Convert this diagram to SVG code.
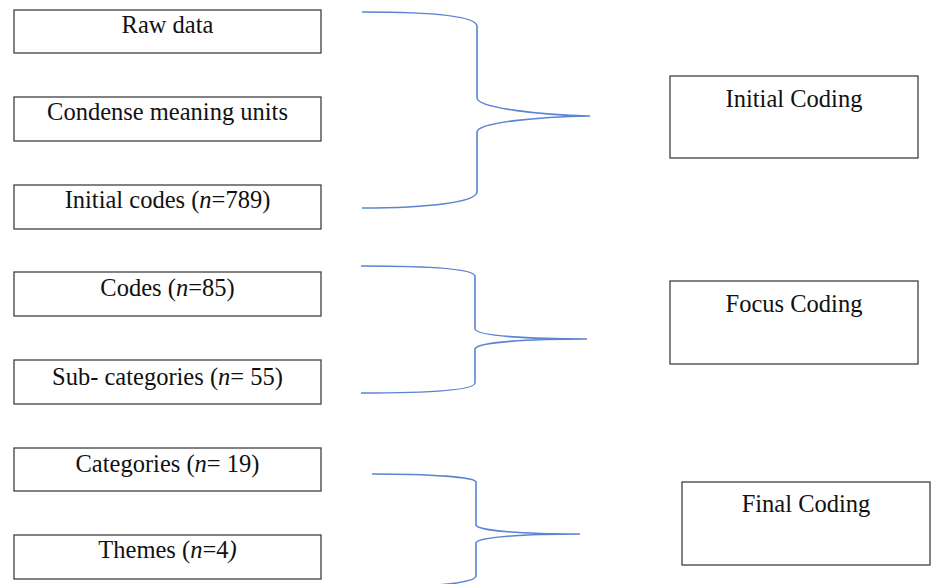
<svg xmlns="http://www.w3.org/2000/svg" width="935" height="584" viewBox="0 0 935 584">
<style>
.box{fill:#fff;stroke:#404040;stroke-width:1.3}
.t{font-family:"Liberation Serif","Times New Roman",serif;font-size:24.5px;fill:#111;text-anchor:middle}
.b{fill:none;stroke:#5b84d4;stroke-width:1.6}
</style>
<rect width="935" height="584" fill="#fff"/>
<g id="raw-data"><rect class="box" x="14" y="10" width="307" height="43"/><text class="t" x="167.5" y="33">Raw data</text></g>
<g id="condense"><rect class="box" x="14" y="97" width="307" height="44"/><text class="t" x="167.5" y="120">Condense meaning units</text></g>
<g id="initial-codes"><rect class="box" x="14" y="185" width="307" height="44"/><text class="t" x="167.5" y="208">Initial codes (<tspan font-style="italic">n</tspan>=789)</text></g>
<g id="codes"><rect class="box" x="14" y="272" width="307" height="44"/><text class="t" x="167.5" y="296">Codes (<tspan font-style="italic">n</tspan>=85)</text></g>
<g id="sub-categories"><rect class="box" x="14" y="360" width="307" height="44"/><text class="t" x="167.5" y="385">Sub- categories (<tspan font-style="italic">n</tspan>= 55)</text></g>
<g id="categories"><rect class="box" x="14" y="448" width="307" height="43"/><text class="t" x="167.5" y="472">Categories (<tspan font-style="italic">n</tspan>= 19)</text></g>
<g id="themes"><rect class="box" x="14" y="535" width="307" height="44"/><text class="t" x="167.5" y="558">Themes (<tspan font-style="italic">n</tspan>=4<tspan font-style="italic">)</tspan></text></g>
<g id="initial-coding"><rect class="box" x="670" y="76" width="248" height="82"/><text class="t" x="794" y="107">Initial Coding</text></g>
<g id="focus-coding"><rect class="box" x="670" y="281" width="248" height="83"/><text class="t" x="794" y="312">Focus Coding</text></g>
<g id="final-coding"><rect class="box" x="682" y="482" width="248" height="83"/><text class="t" x="806" y="512">Final Coding</text></g>
<g id="connectors">
<path class="b" d="M362,12 C430,12 476,16 477,26 L477,98 C478,108 540,115 590,116 C540,117 478,122 477,132 L477,192 C476,202 430,208 362,208"/>
<path class="b" d="M361,266 C430,266 474,269 475,276 L475,329 C476,336 530,339 587,339 C530,339 476,342 475,349 L475,383 C474,390 430,393 361,393"/>
<path class="b" d="M372,474 C430,474 475,477 476,482 L476,525 C477,531 525,534 580,534 C525,534 477,537 476,543 L476,576 C475,583 430,587 372,588"/>
</g>
</svg>
